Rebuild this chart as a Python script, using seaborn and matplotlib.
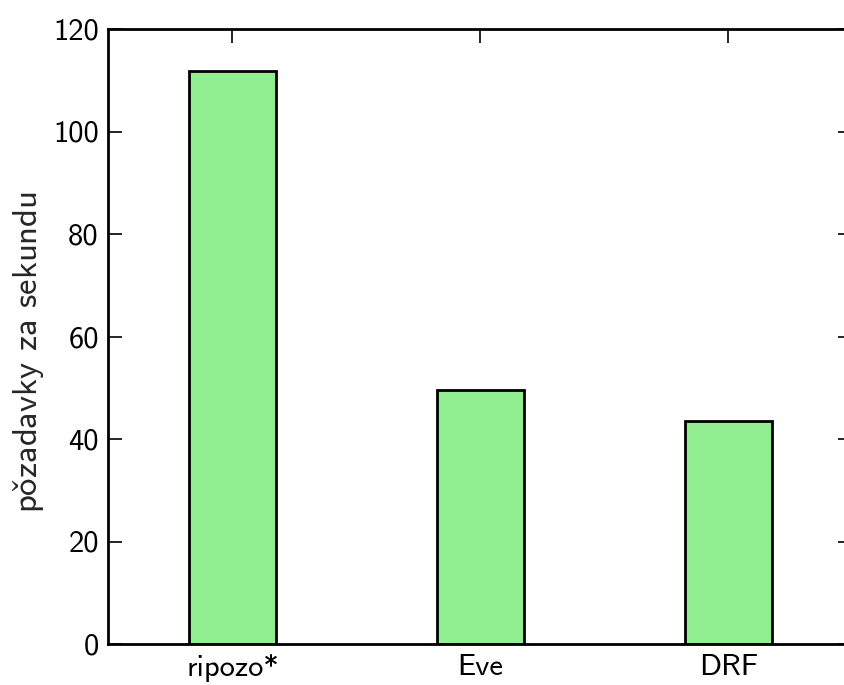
import matplotlib
matplotlib.use("Agg")
import matplotlib.pyplot as plt
import pandas as pd
import seaborn as sns

frameworks = ["ripozo*", "Eve", "DRF"]
requests_per_second = [111.8, 49.6, 43.5]
y_ticks = [0, 20, 40, 60, 80, 100, 120]
y_label = r"po$\check{\mathsf{z}}$adavky za sekundu"


def main() -> None:
    sns.set_theme(style="ticks")
    plt.rcParams["font.family"] = ["cmss10", "DejaVu Sans"]
    plt.rcParams["mathtext.fontset"] = "cm"
    plt.rcParams["axes.unicode_minus"] = False

    df = pd.DataFrame({"framework": frameworks, "rps": requests_per_second})

    fig = plt.figure(figsize=(8.45, 6.85), dpi=100)
    ax = fig.add_axes([108.5 / 845, 41 / 685, 744 / 845, 615 / 685])

    sns.barplot(
        data=df,
        x="framework",
        y="rps",
        color="#90ee90",
        saturation=1,
        edgecolor="black",
        linewidth=2,
        width=0.35,
        ax=ax,
    )

    ax.set_xlim(-0.5, 2.5)
    ax.set_ylim(0, 120)
    ax.set_yticks(y_ticks)
    ax.set_xlabel("")
    ax.set_ylabel(y_label, fontsize=25)
    ax.yaxis.set_label_coords(-0.084, 0.475)

    for side in ["top", "right", "bottom", "left"]:
        ax.spines[side].set_visible(True)
        ax.spines[side].set_linewidth(2)
        ax.spines[side].set_color("black")

    ax.tick_params(
        direction="in",
        length=10,
        width=1.2,
        top=True,
        right=True,
        labelsize=22,
        colors="black",
        pad=7,
    )

    fig.savefig("out.png", dpi=100)


if __name__ == "__main__":
    main()
